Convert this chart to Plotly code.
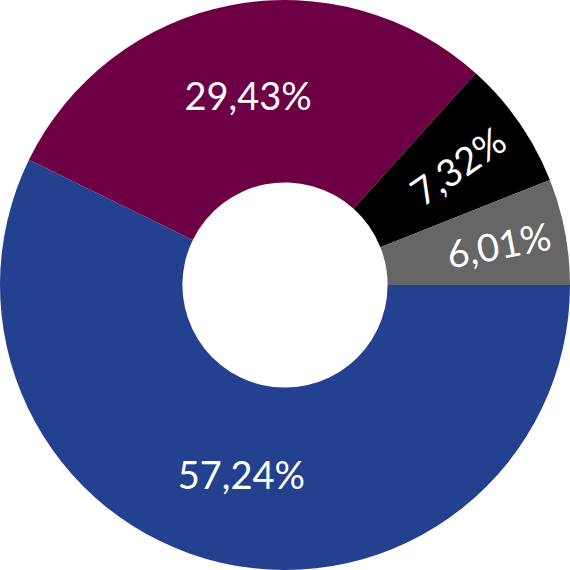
import plotly.graph_objects as go

labels = ["A", "B", "C", "D"]
values = [57.24, 29.43, 7.32, 6.01]
colors = ["#23418e", "#6d0044", "#000000", "#666666"]

fig = go.Figure(go.Pie(
    labels=labels,
    values=values,
    hole=0.36,
    sort=False,
    direction="clockwise",
    rotation=90,
    marker=dict(colors=colors, line=dict(width=0)),
    texttemplate="%{value:.2f}%",
    textposition="inside",
    insidetextorientation="auto",
    textfont=dict(family="Lato", size=38, color="white"),
    showlegend=False,
    hoverinfo="skip",
))
fig.update_layout(
    width=570, height=570,
    margin=dict(l=0, r=0, t=0, b=0),
    separators=", ",
    paper_bgcolor="white",
    plot_bgcolor="white",
)
fig.write_html("out.html", config={"displayModeBar": False},
               post_script="document.body.style.margin='0';")
